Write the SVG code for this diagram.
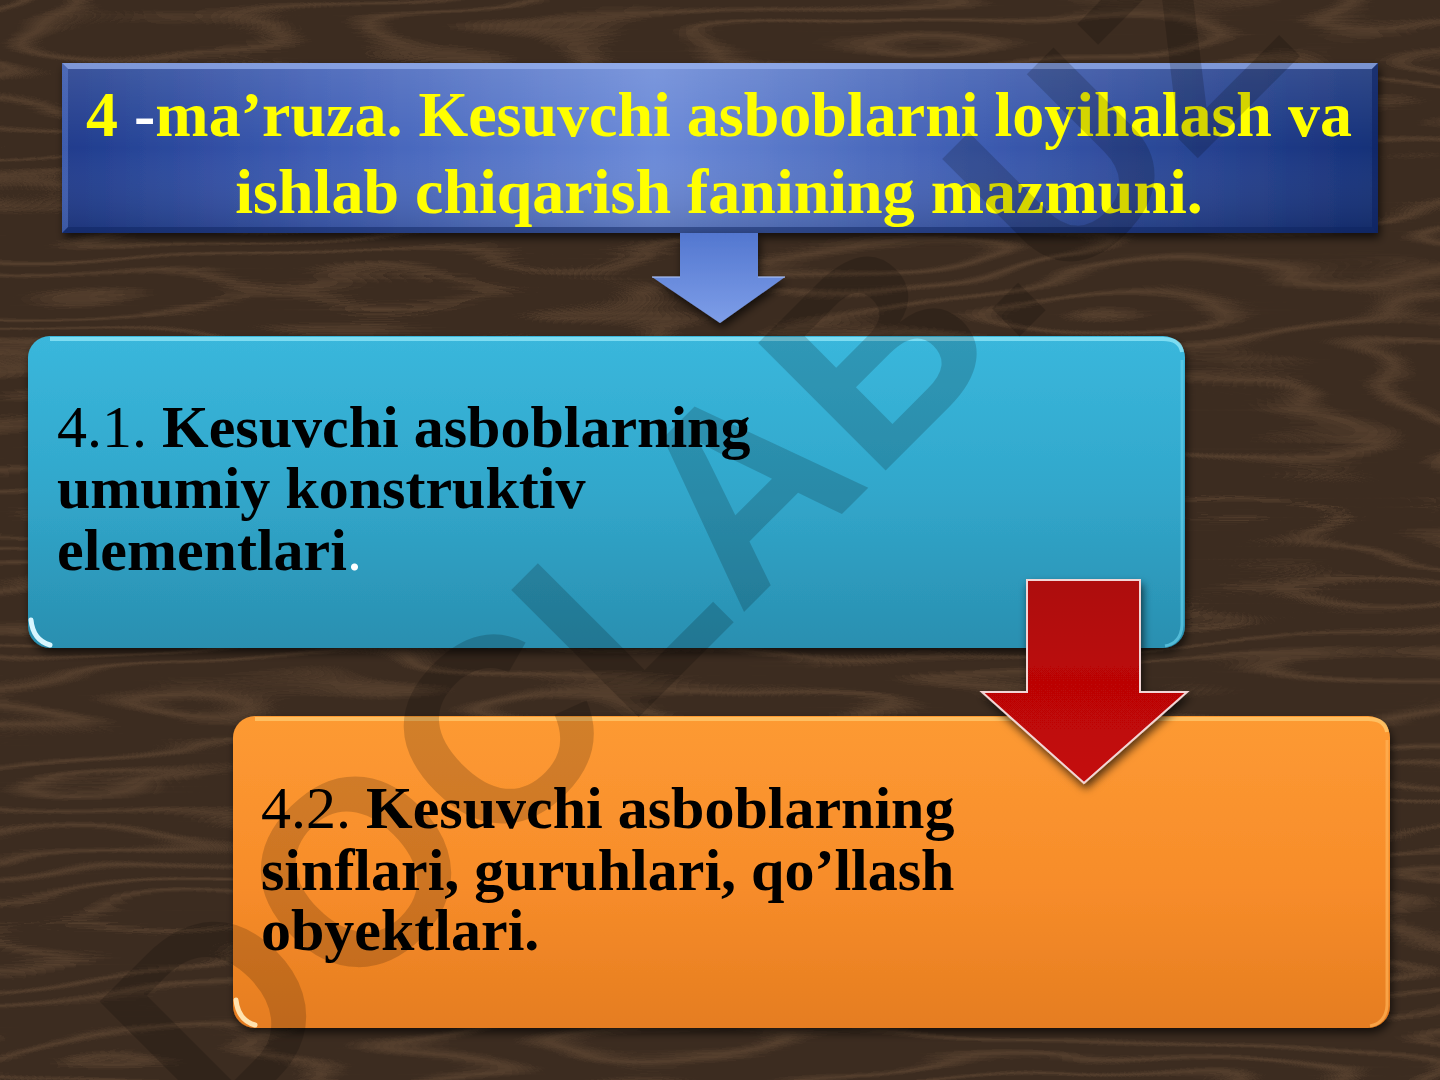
<svg xmlns="http://www.w3.org/2000/svg" width="1440" height="1080" viewBox="0 0 1440 1080">
<defs>
<style>
.title{font-family:"Liberation Serif","Times New Roman",serif;font-weight:bold;font-size:64px;fill:#ffff00;text-anchor:middle}
.body{font-family:"Liberation Serif","Times New Roman",serif;font-size:60px;fill:#000}
.b{font-weight:bold}
.reg{font-weight:normal}
.wm{font-family:"Liberation Sans",Arial,sans-serif;font-weight:bold;font-size:262px;fill:#000;fill-opacity:0.17;text-anchor:middle}
</style>
<filter id="wood" x="0" y="0" width="100%" height="100%" color-interpolation-filters="sRGB">
<feTurbulence type="fractalNoise" baseFrequency="0.0014 0.009" numOctaves="3" seed="11" result="n"/>
<feComponentTransfer in="n" result="bands">
<feFuncR type="table" tableValues="0 0.05 0.5 0.05 0 0.05 0.5 0.05 0 0.05 0.5 0.05 0 0.05 0.5 0.05 0 0.05 0.5 0.05 0 0.05 0.5 0.05 0 0.05 0.5 0.05 0 0.05 0.5 0.05 0"/>
</feComponentTransfer>
<feTurbulence type="fractalNoise" baseFrequency="0.002 0.45" numOctaves="2" seed="4" result="f"/>
<feComposite in="bands" in2="f" operator="arithmetic" k1="0" k2="1" k3="0.14" k4="-0.07" result="mix"/>
<feColorMatrix in="mix" type="matrix" values="0.22 0 0 0 0.235  0.17 0 0 0 0.172  0.12 0 0 0 0.125  0 0 0 0 1"/>
</filter>
<filter id="sh" x="-5%" y="-10%" width="110%" height="130%">
<feDropShadow dx="2" dy="5" stdDeviation="4" flood-color="#000" flood-opacity="0.65"/>
</filter>
<linearGradient id="gTitle" x1="0" y1="0" x2="1" y2="0">
<stop offset="0" stop-color="#1f3b8c"/>
<stop offset="0.2" stop-color="#3e5db5"/>
<stop offset="0.45" stop-color="#6b8ad8"/>
<stop offset="0.7" stop-color="#3c5bb0"/>
<stop offset="1" stop-color="#152f78"/>
</linearGradient>
<linearGradient id="gTitleV" x1="0" y1="0" x2="0" y2="1">
<stop offset="0" stop-color="#fff" stop-opacity="0.12"/>
<stop offset="0.5" stop-color="#fff" stop-opacity="0"/>
<stop offset="1" stop-color="#000" stop-opacity="0.15"/>
</linearGradient>
<linearGradient id="gCyan" x1="0" y1="0" x2="0" y2="1">
<stop offset="0" stop-color="#3ab7dc"/>
<stop offset="0.5" stop-color="#31a7cb"/>
<stop offset="1" stop-color="#2a8fb0"/>
</linearGradient>
<linearGradient id="gOrange" x1="0" y1="0" x2="0" y2="1">
<stop offset="0" stop-color="#fd9a33"/>
<stop offset="0.55" stop-color="#f78c2a"/>
<stop offset="1" stop-color="#e57d20"/>
</linearGradient>
<linearGradient id="gBlueArrow" x1="0" y1="0" x2="0" y2="1">
<stop offset="0" stop-color="#5377d0"/>
<stop offset="1" stop-color="#7e9ee8"/>
</linearGradient>
<linearGradient id="gRed" x1="0" y1="0" x2="0" y2="1">
<stop offset="0" stop-color="#ad0c0c"/>
<stop offset="0.5" stop-color="#bb0606"/>
<stop offset="1" stop-color="#c40808"/>
</linearGradient>
</defs>

<g id="background">
<rect x="0" y="0" width="1440" height="1080" fill="#3e2e22"/>
<rect x="0" y="0" width="1440" height="1080" filter="url(#wood)"/>
</g>

<g id="title-node">
<rect x="62" y="63" width="1316" height="170" fill="url(#gTitle)" filter="url(#sh)"/>
<rect x="62" y="63" width="1316" height="170" fill="url(#gTitleV)"/>
<path d="M62 63 H1378 L1372 69 H68 Z" fill="#9ab3f0" fill-opacity="0.7"/>
<path d="M1378 63 V233 L1372 227 V69 Z" fill="#0e2360" fill-opacity="0.6"/>
<path d="M62 233 H1378 L1372 227 H68 Z" fill="#0e2360" fill-opacity="0.5"/>
<path d="M62 63 V233 L68 227 V69 Z" fill="#6f8fe0" fill-opacity="0.4"/>
<text class="title" x="719" y="136">4 <tspan fill="#ffffff">-</tspan>ma’ruza. Kesuvchi asboblarni loyihalash va</text>
<text class="title" x="719" y="213">ishlab chiqarish fanining mazmuni.</text>
</g>

<g id="node-4-1">
<rect x="28" y="336" width="1157" height="312" rx="22" ry="22" fill="url(#gCyan)" filter="url(#sh)"/>
<path d="M50 339 H1163 Q1180 339 1182 352" fill="none" stroke="#8fe6f8" stroke-width="4" stroke-opacity="0.8"/>
<path d="M31 620 Q33 640 50 645" fill="none" stroke="#d8f6ff" stroke-width="5" stroke-linecap="round"/>
<path d="M1182 360 V625 Q1181 643 1165 646" fill="none" stroke="#64cde8" stroke-width="3" stroke-opacity="0.7"/>
<text class="body" x="57" y="447"><tspan class="reg">4.1. </tspan><tspan class="b">Kesuvchi asboblarning</tspan></text>
<text class="body b" x="57" y="508">umumiy konstruktiv</text>
<text class="body" x="57" y="570"><tspan class="b">elementlari</tspan><tspan fill="#ffffff">.</tspan></text>
</g>

<g id="node-4-2">
<rect x="233" y="716" width="1157" height="312" rx="22" ry="22" fill="url(#gOrange)" filter="url(#sh)"/>
<path d="M255 719 H1368 Q1385 719 1387 732" fill="none" stroke="#ffc56a" stroke-width="4" stroke-opacity="0.85"/>
<path d="M236 1000 Q238 1020 255 1025" fill="none" stroke="#ffe3b0" stroke-width="5" stroke-linecap="round"/>
<path d="M1387 740 V1005 Q1386 1023 1370 1026" fill="none" stroke="#ffb255" stroke-width="3" stroke-opacity="0.7"/>
<text class="body" x="261" y="828"><tspan class="reg">4.2. </tspan><tspan class="b">Kesuvchi asboblarning</tspan></text>
<text class="body b" x="261" y="890">sinflari, guruhlari, qo’llash</text>
<text class="body b" x="261" y="950">obyektlari.</text>
</g>

<g id="connectors">
<path d="M680 233 H758 V277 H785 L720 323 L652 277 H680 Z" fill="url(#gBlueArrow)" filter="url(#sh)"/>
<path d="M652 277 H680 M758 277 H785" fill="none" stroke="#a9c0f5" stroke-width="2" stroke-opacity="0.6"/>
<path d="M1027 580 H1140 V692 H1187 L1084 783 L982 692 H1027 Z" fill="url(#gRed)" stroke="#f2d6d6" stroke-width="2" filter="url(#sh)"/>
</g>

<g id="watermark">
<text class="wm" transform="translate(760 596) rotate(-45)" x="0" y="0">DOCLAB.UZ</text>
</g>
</svg>
